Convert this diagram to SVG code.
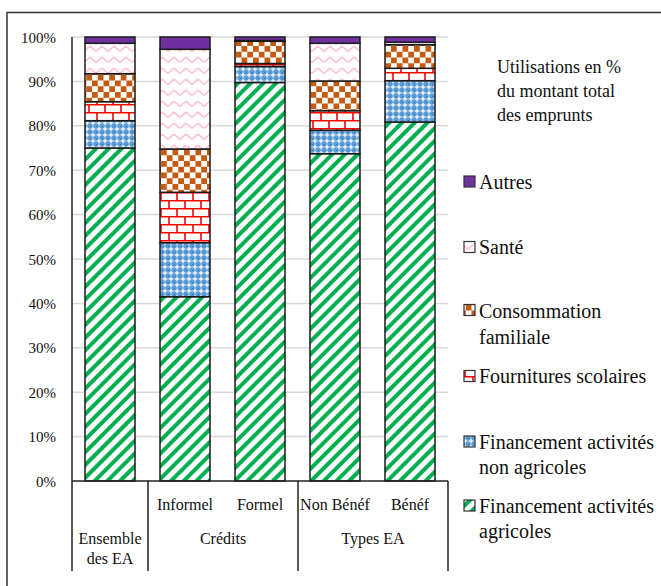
<svg xmlns="http://www.w3.org/2000/svg" width="661" height="586" viewBox="0 0 661 586">
<style>
text{font-family:"Liberation Serif","Times New Roman",serif;fill:#111}
.ax{font-size:15px;text-anchor:end}
.cat{font-size:16px;text-anchor:middle}
.lg{font-size:20px}
.tt{font-size:18px}
.grid{stroke:#d9d9d9;stroke-width:1.5}
.seg{stroke:#1a1a1a;stroke-width:1.5}
.agri{fill:url(#pAgri)}
.nagri{fill:url(#pNagri)}
.four{fill:url(#pFour)}
.conso{fill:url(#pConso)}
.sante{fill:url(#pSante)}
.autres{fill:#7030a0}
.mk{stroke:#333;stroke-width:1.2}
</style>
<defs>
<pattern id="pAgri" patternUnits="userSpaceOnUse" width="9" height="9" patternTransform="rotate(45)">
<rect width="9" height="9" fill="#fff"/><rect width="4" height="9" fill="#00b050"/>
</pattern>
<pattern id="pNagri" patternUnits="userSpaceOnUse" width="6" height="6">
<rect width="6" height="6" fill="#5b9bd5"/><rect x="2.4" y="0.6" width="1.2" height="4.8" fill="#fff"/><rect x="0.6" y="2.4" width="4.8" height="1.2" fill="#fff"/><rect x="0" y="0" width="1" height="1" fill="#2e75b6"/>
</pattern>
<pattern id="pFour" patternUnits="userSpaceOnUse" width="16" height="16">
<rect width="16" height="16" fill="#fff"/>
<path d="M0,0.75H16M0,8.75H16M1,0V8M9,8V16" stroke="#ff0000" stroke-width="1.6" fill="none"/>
</pattern>
<pattern id="pConso" patternUnits="userSpaceOnUse" width="11.5" height="11.5">
<rect width="11.5" height="11.5" fill="#fff"/><rect width="5.75" height="5.75" fill="#c55a11"/><rect x="5.75" y="5.75" width="5.75" height="5.75" fill="#c55a11"/>
</pattern>
<pattern id="pSante" patternUnits="userSpaceOnUse" width="12" height="11">
<rect width="12" height="11" fill="#fff"/>
<path d="M0,7 C2,7 4,2.5 6,2.5 C8,2.5 10,7 12,7" stroke="#ffc4d4" stroke-width="1.8" fill="none"/>
</pattern>
</defs>

<path d="M7,586V12.5H661" fill="none" stroke="#333" stroke-width="1.5"/>

<g id="grid">
<path class="grid" d="M72,37H448M72,81.4H448M72,125.8H448M72,170.2H448M72,214.6H448M72,259H448M72,303.4H448M72,347.8H448M72,392.2H448M72,436.6H448"/>
</g>

<g id="yaxis">
<text class="ax" x="56" y="42.5">100%</text>
<text class="ax" x="56" y="86.9">90%</text>
<text class="ax" x="56" y="131.3">80%</text>
<text class="ax" x="56" y="175.7">70%</text>
<text class="ax" x="56" y="220.1">60%</text>
<text class="ax" x="56" y="264.5">50%</text>
<text class="ax" x="56" y="308.9">40%</text>
<text class="ax" x="56" y="353.3">30%</text>
<text class="ax" x="56" y="397.7">20%</text>
<text class="ax" x="56" y="442.1">10%</text>
<text class="ax" x="56" y="486.5">0%</text>
</g>

<g id="bar-ensemble">
<rect class="seg agri" x="85" y="148" width="50" height="333"/>
<rect class="seg nagri" x="85" y="120.7" width="50" height="27.3"/>
<rect class="seg four" x="85" y="101.7" width="50" height="19"/>
<rect class="seg conso" x="85" y="73.7" width="50" height="28"/>
<rect class="seg sante" x="85" y="43.3" width="50" height="30.4"/>
<rect class="seg autres" x="85" y="37" width="50" height="6.3"/>
</g>
<g id="bar-informel">
<rect class="seg agri" x="160" y="296.7" width="50" height="184.3"/>
<rect class="seg nagri" x="160" y="242.7" width="50" height="54"/>
<rect class="seg four" x="160" y="192.3" width="50" height="50.4"/>
<rect class="seg conso" x="160" y="149" width="50" height="43.3"/>
<rect class="seg sante" x="160" y="49.3" width="50" height="99.7"/>
<rect class="seg autres" x="160" y="37" width="50" height="12.3"/>
</g>
<g id="bar-formel">
<rect class="seg agri" x="235" y="82.5" width="50" height="398.5"/>
<rect class="seg nagri" x="235" y="66.5" width="50" height="16"/>
<rect class="seg four" x="235" y="63.5" width="50" height="3"/>
<rect class="seg conso" x="235" y="41.3" width="50" height="22.2"/>
<rect class="seg sante" x="235" y="40.5" width="50" height="0.8"/>
<rect class="seg autres" x="235" y="37" width="50" height="3.5"/>
</g>
<g id="bar-nonbenef">
<rect class="seg agri" x="310" y="153.7" width="50" height="327.3"/>
<rect class="seg nagri" x="310" y="130.3" width="50" height="23.4"/>
<rect class="seg four" x="310" y="110.7" width="50" height="19.6"/>
<rect class="seg conso" x="310" y="81" width="50" height="29.7"/>
<rect class="seg sante" x="310" y="43.3" width="50" height="37.7"/>
<rect class="seg autres" x="310" y="37" width="50" height="6.3"/>
</g>
<g id="bar-benef">
<rect class="seg agri" x="385" y="122" width="50" height="359"/>
<rect class="seg nagri" x="385" y="80.7" width="50" height="41.3"/>
<rect class="seg four" x="385" y="68.3" width="50" height="12.4"/>
<rect class="seg conso" x="385" y="44.7" width="50" height="23.6"/>
<rect class="seg sante" x="385" y="42.3" width="50" height="2.4"/>
<rect class="seg autres" x="385" y="37" width="50" height="5.3"/>
</g>

<g id="axes">
<path d="M72,37V571M72,481H448M148,481V571M298,481V571M448,481V571" stroke="#222" stroke-width="1.5" fill="none"/>
</g>

<g id="xlabels">
<text class="cat" x="185" y="510">Informel</text>
<text class="cat" x="260" y="510">Formel</text>
<text class="cat" x="335" y="510">Non Bénéf</text>
<text class="cat" x="410" y="510">Bénéf</text>
<text class="cat" x="110" y="544">Ensemble</text>
<text class="cat" x="110" y="564">des EA</text>
<text class="cat" x="223" y="544">Crédits</text>
<text class="cat" x="373" y="544">Types EA</text>
</g>

<g id="legend">
<text class="tt" x="497" y="73">Utilisations en %</text>
<text class="tt" x="497" y="97">du montant total</text>
<text class="tt" x="497" y="121">des emprunts</text>
<g id="lg-autres"><rect class="mk autres" x="464" y="176" width="11" height="11"/><text class="lg" x="479" y="189">Autres</text></g>
<g id="lg-sante"><rect class="mk sante" x="464" y="241.5" width="11" height="11"/><text class="lg" x="479" y="254">Santé</text></g>
<g id="lg-conso"><rect class="mk conso" x="464" y="304.5" width="11" height="11"/><text class="lg" x="479" y="318">Consommation</text><text class="lg" x="479" y="344">familiale</text></g>
<g id="lg-four"><rect class="mk four" x="464" y="370.5" width="11" height="11"/><text class="lg" x="479" y="383">Fournitures scolaires</text></g>
<g id="lg-nagri"><rect class="mk nagri" x="464" y="436" width="11" height="11"/><text class="lg" x="479" y="449">Financement activités</text><text class="lg" x="479" y="474">non agricoles</text></g>
<g id="lg-agri"><rect class="mk agri" x="464" y="500" width="11" height="11"/><text class="lg" x="479" y="513">Financement activités</text><text class="lg" x="479" y="538">agricoles</text></g>
</g>
</svg>
